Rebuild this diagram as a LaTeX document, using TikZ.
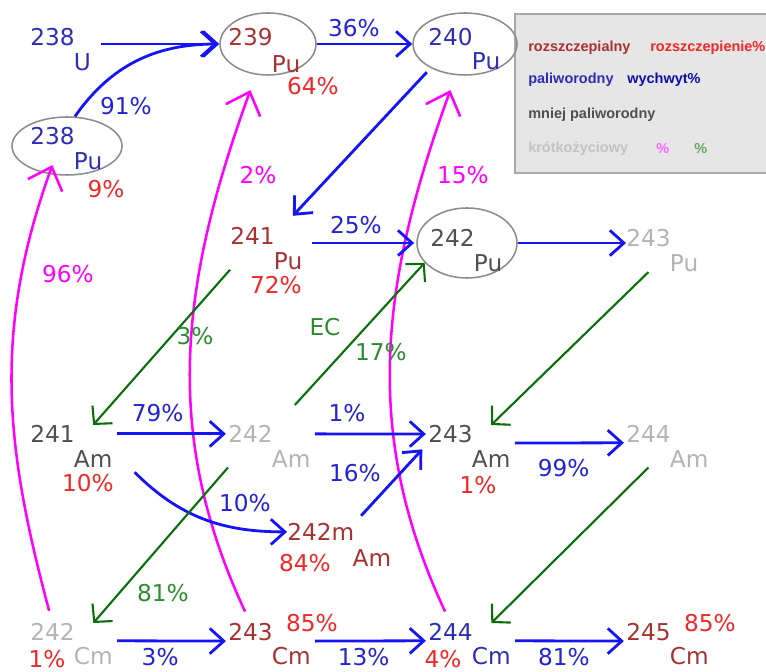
\documentclass[tikz,border=0pt]{standalone}
\usepackage{fontspec}
\setmainfont{DejaVu Sans}
\newfontfamily\keyfont{Liberation Sans}
\usetikzlibrary{arrows.meta,positioning,shapes.geometric}

\definecolor{fisnuc}{HTML}{A83232}
\definecolor{fispct}{HTML}{F02828}
\definecolor{fertnuc}{HTML}{2E2EB4}
\definecolor{lessnuc}{HTML}{505050}
\definecolor{shortnuc}{HTML}{B4B4B4}
\definecolor{captline}{HTML}{1414F5}
\definecolor{capttxt}{HTML}{2323D2}
\definecolor{alphaline}{HTML}{FF00FF}
\definecolor{betaline}{HTML}{0A6E0A}
\definecolor{betatxt}{HTML}{2E8B2E}
\definecolor{shellgray}{HTML}{8C8C8C}
\definecolor{keyfill}{HTML}{E6E6E6}
\definecolor{keyedge}{HTML}{A8A8A8}

\begin{document}
\begin{tikzpicture}[every node/.style={font=\fontsize{16.5}{19}\selectfont},
	mass/.style={anchor=north west, inner sep=0pt},
	sym/.style={inner sep=0pt},
	pct/.style={inner sep=1pt},
	shell/.style={draw=shellgray, ellipse, line width=1.1pt, inner sep=0pt},
	capt/.style={draw=captline, line width=2pt, -{Straight Barb[length=10pt,width=18pt]}},
	hop/.style={capt, shorten <=3pt, shorten >=1.5pt},
	beta/.style={draw=betaline, line width=1.5pt, -{Straight Barb[length=9pt,width=19pt]}},
	alpha/.style={draw=alphaline, line width=1.8pt, shorten <=9pt, -{Straight Barb[length=14pt,width=26pt]}},
	key/.style={font=\keyfont\bfseries\fontsize{10.3}{12}\selectfont, anchor=west, inner sep=0pt}]
	\useasboundingbox (0,0) rectangle (19.15,16.775);
	% legend
	\draw[fill=keyfill, draw=keyedge, line width=1.4pt] (12.875,16.425) rectangle (19.6,12.45);
	\node[key, text=fisnuc] (k1) at (13.2,15.575) {rozszczepialny};
	\node[key, text=fispct] (k2) at (16.25,15.575) {rozszczepienie\%};
	\node[key, text=fertnuc] (k3) at (13.2,14.775) {paliworodny};
	\node[key, text=captline!70!black] (k4) at (15.675,14.775) {wychwyt\%};
	\node[key, text=lessnuc] (k5) at (13.2,13.9) {mniej paliworodny};
	\node[key, text=shortnuc!80!white] (k6) at (13.2,13.05) {krótkożyciowy};
	\node[key, text=alphaline!60!white] (k7) at (16.4,13.05) {\%};
	\node[key, text=betatxt!75!white] (k8) at (17.35,13.05) {\%};
	% shells
	\node[shell, minimum width=2.75cm, minimum height=1.45cm] (pu238e) at (1.675,13.125) {};
	\node[shell, minimum width=2.4cm, minimum height=1.55cm] (pu239e) at (6.7,15.675) {};
	\node[shell, minimum width=2.6cm, minimum height=1.55cm] (pu240e) at (11.625,15.675) {};
	\node[shell, minimum width=2.5cm, minimum height=1.75cm] (pu242e) at (11.675,10.7) {};
	% nuclides
	\node[mass, text=fertnuc] (u238) at (0.75,16.075) {238};
	\node[sym, text=fertnuc, below right=0.18 and -0.03 of u238] (u238s) {U};
	\node[mass, text=fertnuc] (pu238) at (0.75,13.6) {238};
	\node[sym, text=fertnuc, below right=0.18 and -0.03 of pu238] (pu238s) {Pu};
	\node[mass, text=fisnuc] (pu239) at (5.7,16.075) {239};
	\node[sym, text=fisnuc, below right=0.22 and -0.03 of pu239] (pu239s) {Pu};
	\node[mass, text=fertnuc] (pu240) at (10.7,16.075) {240};
	\node[sym, text=fertnuc, below right=0.15 and -0.03 of pu240] (pu240s) {Pu};
	\node[mass, text=fisnuc] (pu241) at (5.75,11.1) {241};
	\node[sym, text=fisnuc, below right=0.18 and -0.03 of pu241] (pu241s) {Pu};
	\node[mass, text=lessnuc] (pu242) at (10.75,11.05) {242};
	\node[sym, text=lessnuc, below right=0.18 and -0.03 of pu242] (pu242s) {Pu};
	\node[mass, text=shortnuc] (pu243) at (15.65,11.05) {243};
	\node[sym, text=shortnuc, below right=0.18 and -0.03 of pu243] (pu243s) {Pu};
	\node[mass, text=lessnuc] (am241) at (0.75,6.15) {241};
	\node[sym, text=lessnuc, below right=0.18 and -0.03 of am241] (am241s) {Am};
	\node[mass, text=shortnuc] (am242) at (5.7,6.15) {242};
	\node[sym, text=shortnuc, below right=0.18 and -0.03 of am242] (am242s) {Am};
	\node[mass, text=lessnuc] (am243) at (10.7,6.15) {243};
	\node[sym, text=lessnuc, below right=0.18 and -0.03 of am243] (am243s) {Am};
	\node[mass, text=shortnuc] (am244) at (15.65,6.15) {244};
	\node[sym, text=shortnuc, below right=0.18 and -0.03 of am244] (am244s) {Am};
	\node[mass, text=fisnuc] (am242m) at (7.175,3.7) {242m};
	\node[sym, text=fisnuc, below right=0.22 and -0.05 of am242m] (am242ms) {Am};
	\node[mass, text=shortnuc] (cm242) at (0.75,1.2) {242};
	\node[sym, text=shortnuc, below right=0.15 and -0.03 of cm242] (cm242s) {Cm};
	\node[mass, text=fisnuc] (cm243) at (5.7,1.2) {243};
	\node[sym, text=fisnuc, below right=0.15 and -0.03 of cm243] (cm243s) {Cm};
	\node[mass, text=fertnuc] (cm244) at (10.7,1.2) {244};
	\node[sym, text=fertnuc, below right=0.15 and -0.03 of cm244] (cm244s) {Cm};
	\node[mass, text=fisnuc] (cm245) at (15.65,1.2) {245};
	\node[sym, text=fisnuc, below right=0.15 and -0.03 of cm245] (cm245s) {Cm};
	% fission shares
	\node[pct, text=fispct] (f239) at (7.825,14.625) {64\%};
	\node[pct, text=fispct] (f238) at (2.65,12.05) {9\%};
	\node[pct, text=fispct] (f241) at (6.9,9.65) {72\%};
	\node[pct, text=fispct] (f241a) at (2.2,4.7) {10\%};
	\node[pct, text=fispct] (f243a) at (11.95,4.65) {1\%};
	\node[pct, text=fispct] (f242m) at (7.625,2.7) {84\%};
	\node[pct, text=fispct] (f242c) at (1.175,0.3) {1\%};
	\node[pct, text=fispct] (f243c) at (7.8,1.2) {85\%};
	\node[pct, text=fispct] (f244c) at (11.075,0.3) {4\%};
	\node[pct, text=fispct] (f245c) at (17.75,1.2) {85\%};
	% alpha decays
	\draw[alpha] (cm242.north) to[out=105, in=-110] ([yshift=-0.5cm]pu238.south);
	\draw[alpha] (cm243.north) to[out=115, in=-110] ([yshift=-1.1cm]pu239.south);
	\draw[alpha] (cm244.north) to[out=115, in=-110] ([yshift=-1.1cm]pu240.south);
	\node[pct, text=alphaline] (a96) at (1.7,9.925) {96\%};
	\node[pct, text=alphaline] (a2) at (6.45,12.4) {2\%};
	\node[pct, text=alphaline] (a15) at (11.575,12.4) {15\%};
	% captures
	\draw[hop, shorten <=7pt] (u238s.east |- pu239e) -- (pu239e);
	\draw[capt] (pu238e.75) to[out=55, in=180] (pu239e.west);
	\node[pct, text=capttxt] (c91) at (3.15,14.125) {91\%};
	\draw[capt] (pu239e) -- (pu240e) node[pct, pos=0.39, above=0.12, text=capttxt] (c36) {36\%};
	\draw[capt, shorten <=4pt] (pu240e.215) -- ([xshift=0.45cm,yshift=0.28cm]pu241.north east);
	\draw[hop, shorten <=7pt] (pu241s.east |- pu242e) -- (pu242e) node[pct, pos=0.47, above=0.17, text=capttxt] (c25) {25\%};
	\draw[capt] (pu242e) -- (pu243.west |- pu242e);
	\draw[hop] (am241s.east |- am241) -- (am242) node[pct, pos=0.39, above=0.22, text=capttxt] (c79) {79\%};
	\draw[hop] (am242s.east |- am242) -- (am243) node[pct, pos=0.31, above=0.22, text=capttxt] (c1) {1\%};
	\draw[hop] (am243s.east |- am243.south) -- (am244.south west) node[pct, pos=0.46, below=0.34, text=capttxt] (c99) {99\%};
	\draw[capt] ([xshift=0.55cm,yshift=-0.12cm]am241s.south east) to[out=-45, in=180] (am242m.west);
	\node[pct, text=capttxt] (c10) at (6.125,4.2) {10\%};
	\draw[capt, shorten <=7pt, shorten >=6pt] (am242m.north east) -- (am243.south west);
	\node[pct, text=capttxt] (c16) at (8.875,4.95) {16\%};
	\draw[hop] (cm242s.east |- cm242.south) -- (cm243.south west) node[pct, pos=0.41, below=0.12, text=capttxt] (c3) {3\%};
	\draw[hop] (cm243s.east |- cm243.south) -- (cm244.south west) node[pct, pos=0.45, below=0.12, text=capttxt] (c13) {13\%};
	\draw[hop] (cm244s.east |- cm244.south) -- (cm245.south west) node[pct, pos=0.46, below=0.12, text=capttxt] (c81) {81\%};
	% beta decays
	\draw[beta] (pu241.west |- pu241s.south) -- (am241s.north |- am241.north);
	\draw[beta] (pu243.south |- pu243s.south) -- (am243s.north |- am243.north);
	\draw[beta] (am242.west |- am242s.south) -- (cm242s.north |- cm242.north);
	\draw[beta] (am244.south |- am244s.south) -- (cm244s.north |- cm244.north);
	\draw[beta] ([xshift=0.55cm,yshift=0.5cm]am242.north east) -- (pu242e.205);
	\node[pct, text=betatxt] (b3) at (4.875,8.375) {3\%};
	\node[pct, text=betatxt] (bec) at (8.125,8.6) {EC};
	\node[pct, text=betatxt] (b17) at (9.525,7.975) {17\%};
	\node[pct, text=betatxt] (b81) at (4.075,1.95) {81\%};
\end{tikzpicture}
\end{document}
